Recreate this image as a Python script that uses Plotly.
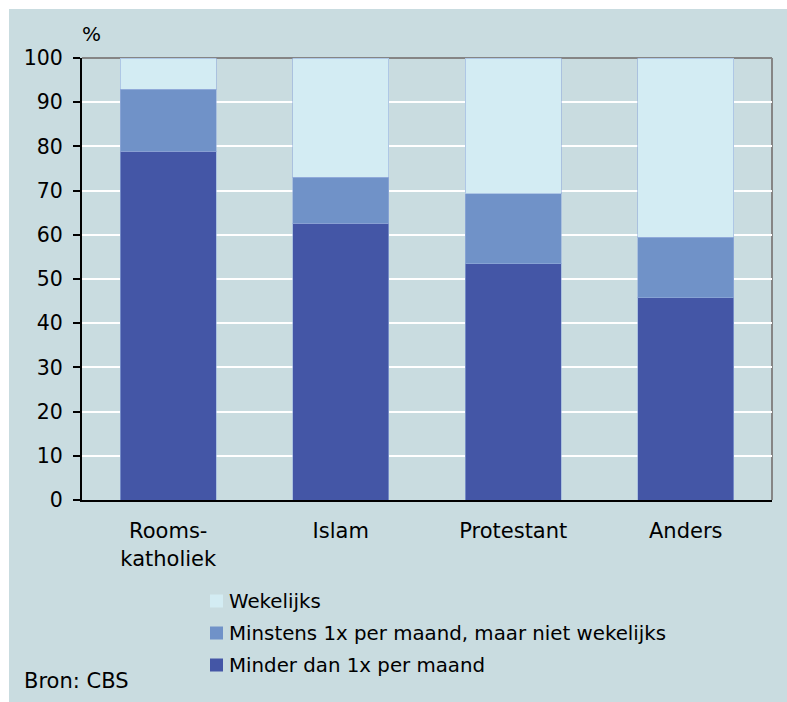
import plotly.graph_objects as go

categories = ["Rooms-<br>katholiek", "Islam", "Protestant", "Anders"]
minder = [78.9, 62.6, 53.5, 45.8]
minstens = [14.0, 10.4, 15.8, 13.6]
wekelijks = [7.1, 27.0, 30.7, 40.6]
series_names = ["Minder dan 1x per maand",
                "Minstens 1x per maand, maar niet wekelijks",
                "Wekelijks"]
series_colors = ["#4456A6", "#7092C8", "#D3ECF3"]
y_ticks = [0, 10, 20, 30, 40, 50, 60, 70, 80, 90, 100]

BG = "#C9DCE0"
FONT = "DejaVu Sans"

W, H = 787, 702
L, R, T, B = 82, 15, 58, 202
PW, PH = W - L - R, H - T - B


def px2x(px):
    return (px - L) / PW


def px2y(py):
    return (H - B - py) / PH


fig = go.Figure()
for name, vals, col in zip(series_names, [minder, minstens, wekelijks], series_colors):
    fig.add_trace(go.Bar(
        x=categories, y=vals, name=name,
        marker=dict(color=col, line=dict(color="rgba(150,175,220,0.6)", width=1)),
        showlegend=False, hoverinfo="skip",
    ))

shapes = [
    # outer background panel (white border top/left)
    dict(type="rect", xref="paper", yref="paper", layer="below",
         x0=px2x(9), x1=px2x(790), y0=px2y(705), y1=px2y(9),
         fillcolor=BG, line=dict(width=0)),
    # top border
    dict(type="line", xref="paper", yref="paper", layer="below",
         x0=0, x1=1, y0=1, y1=1, line=dict(color="#858585", width=2)),
    # right border
    dict(type="line", xref="paper", yref="paper", layer="below",
         x0=1, x1=1, y0=0, y1=1, line=dict(color="#858585", width=2)),
]

annotations = [
    dict(text="%", xref="paper", yref="paper", x=px2x(91), y=px2y(34),
         xanchor="center", yanchor="middle", showarrow=False,
         font=dict(family=FONT, size=20, color="black")),
    dict(text="Bron: CBS", xref="paper", yref="paper", x=px2x(22), y=px2y(681),
         xanchor="left", yanchor="middle", showarrow=False,
         font=dict(family=FONT, size=21, color="black")),
]

legend_rows = [601, 633, 665]
for (name, col), yc in zip(list(zip(series_names, series_colors))[::-1], legend_rows):
    shapes.append(dict(type="rect", xref="paper", yref="paper",
                       x0=px2x(210), x1=px2x(223), y0=px2y(yc + 6.5), y1=px2y(yc - 6.5),
                       fillcolor=col, line=dict(width=0)))
    annotations.append(dict(text=name, xref="paper", yref="paper",
                            x=px2x(227), y=px2y(yc), xanchor="left", yanchor="middle",
                            showarrow=False,
                            font=dict(family=FONT, size=19.8, color="black")))

fig.update_layout(
    barmode="stack",
    bargap=0.445,
    width=W, height=H,
    margin=dict(l=L, r=R, t=T, b=B, pad=0),
    paper_bgcolor="white",
    plot_bgcolor=BG,
    font=dict(family=FONT, size=20, color="black"),
    shapes=shapes,
    annotations=annotations,
    showlegend=False,
    xaxis=dict(
        showline=True, linecolor="black", linewidth=2,
        showgrid=False, ticks="", ticklabelstandoff=11,
        tickfont=dict(family=FONT, size=21, color="black"),
        fixedrange=True,
    ),
    yaxis=dict(
        range=[0, 100], tickvals=y_ticks,
        showline=True, linecolor="black", linewidth=2,
        showgrid=True, gridcolor="white", gridwidth=2,
        ticks="outside", ticklen=7, tickwidth=2, tickcolor="black",
        ticklabelstandoff=6, zeroline=False,
        tickfont=dict(family=FONT, size=20.5, color="black"),
        fixedrange=True,
    ),
)

fig.write_html(
    "out.html",
    config={"displayModeBar": False},
    post_script="document.body.style.margin='0px';document.body.style.overflow='hidden';",
)
